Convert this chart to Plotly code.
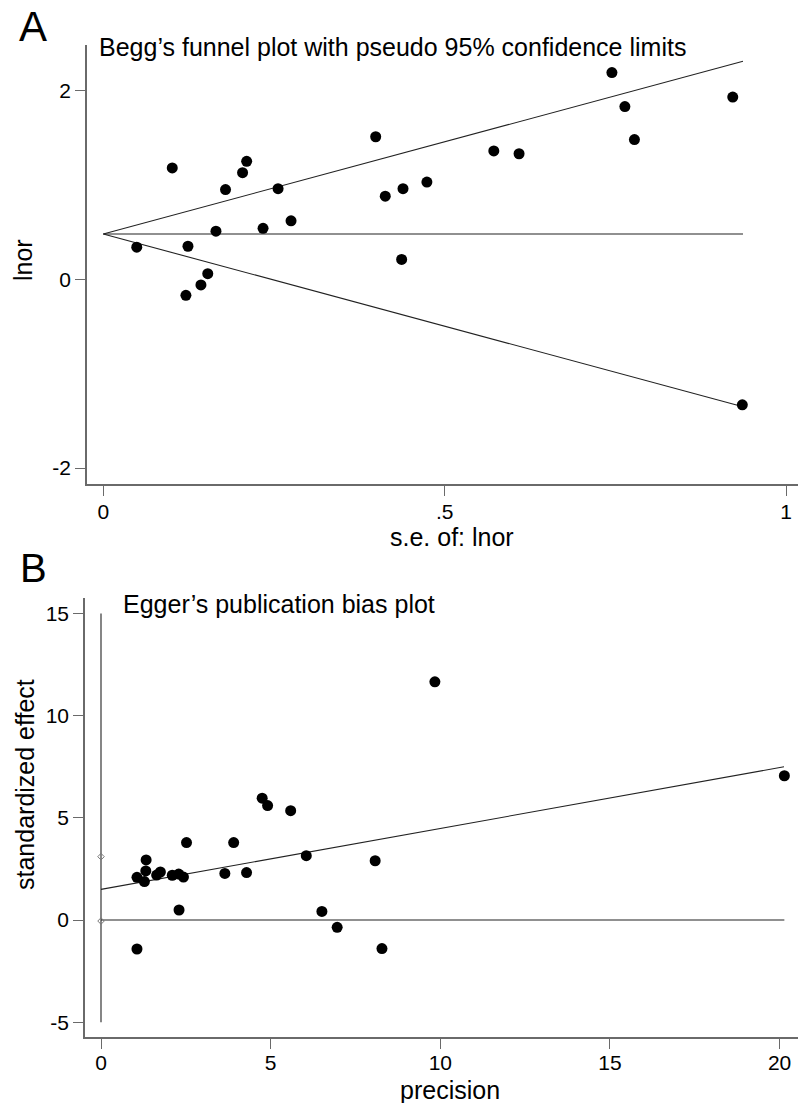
import plotly.graph_objects as go

W, H = 798, 1103

# ---------------- Panel A data (Begg's funnel plot) ----------------
se_lnor = [0.049, 0.101, 0.124, 0.121, 0.143, 0.153, 0.165, 0.179, 0.204, 0.210,
           0.234, 0.256, 0.275, 0.399, 0.413, 0.439, 0.437, 0.474, 0.572, 0.609,
           0.745, 0.764, 0.778, 0.922, 0.936]
lnor = [0.34, 1.18, 0.35, -0.17, -0.06, 0.06, 0.51, 0.95, 1.13, 1.25,
        0.54, 0.96, 0.62, 1.51, 0.88, 0.96, 0.21, 1.03, 1.36, 1.33,
        2.19, 1.83, 1.48, 1.93, -1.33]
funnel_se = [0.0, 0.937]
funnel_upper = [0.48, 2.31]
funnel_mid = [0.48, 0.48]
funnel_lower = [0.48, -1.35]
a_xticks = [0, 0.5, 1]
a_xticklabels = ["0", ".5", "1"]
a_yticks = [-2, 0, 2]
a_yticklabels = ["-2", "0", "2"]

# ---------------- Panel B data (Egger's plot) ----------------
precision = [4.75, 4.91, 5.59, 9.84, 20.14, 1.06, 1.06, 1.33, 1.32, 1.28,
             1.64, 1.75, 2.10, 2.29, 2.43, 2.30, 2.52, 3.65, 3.91, 4.29,
             6.05, 6.51, 6.96, 8.08, 8.28]
std_effect = [5.96, 5.60, 5.35, 11.66, 7.06, 2.09, -1.42, 2.94, 2.40, 1.88,
              2.20, 2.35, 2.19, 2.25, 2.10, 0.49, 3.79, 2.28, 3.79, 2.32,
              3.15, 0.42, -0.36, 2.90, -1.40]
reg_x = [0.0, 20.13]
reg_y = [1.50, 7.50]
zero_x = [0.0, 20.14]
zero_y = [0.0, 0.0]
yaxis_line_x = [0.0, 0.0]
yaxis_line_y = [-5.0, 15.0]
ci_x = [0.0, 0.0]
ci_y = [-0.05, 3.10]
b_xticks = [0, 5, 10, 15, 20]
b_xticklabels = ["0", "5", "10", "15", "20"]
b_yticks = [-5, 0, 5, 10, 15]
b_yticklabels = ["-5", "0", "5", "10", "15"]

FONT = "Arial, Liberation Sans, Helvetica, sans-serif"
AXC = "#6a6a6a"
LC = "#222222"

def px(x):
    return x / W

def py(y):
    return 1 - y / H

fig = go.Figure()

# Panel A
for yy in (funnel_upper, funnel_mid, funnel_lower):
    fig.add_trace(go.Scatter(x=funnel_se, y=yy, mode="lines",
                             line=dict(color=LC, width=1.1),
                             xaxis="x", yaxis="y", showlegend=False, hoverinfo="skip"))
fig.add_trace(go.Scatter(x=se_lnor, y=lnor, mode="markers",
                         marker=dict(color="black", size=11, line=dict(width=0)),
                         xaxis="x", yaxis="y", showlegend=False))

# Panel B
fig.add_trace(go.Scatter(x=yaxis_line_x, y=yaxis_line_y, mode="lines",
                         line=dict(color=LC, width=1.1),
                         xaxis="x2", yaxis="y2", showlegend=False, hoverinfo="skip"))
fig.add_trace(go.Scatter(x=zero_x, y=zero_y, mode="lines",
                         line=dict(color=LC, width=1.1),
                         xaxis="x2", yaxis="y2", showlegend=False, hoverinfo="skip"))
fig.add_trace(go.Scatter(x=reg_x, y=reg_y, mode="lines",
                         line=dict(color=LC, width=1.1),
                         xaxis="x2", yaxis="y2", showlegend=False, hoverinfo="skip"))
fig.add_trace(go.Scatter(x=ci_x, y=ci_y, mode="markers",
                         marker=dict(symbol="diamond-open", color="#777777", size=5,
                                     line=dict(width=1, color="#777777")),
                         xaxis="x2", yaxis="y2", showlegend=False))
fig.add_trace(go.Scatter(x=precision, y=std_effect, mode="markers",
                         marker=dict(color="black", size=11, line=dict(width=0)),
                         xaxis="x2", yaxis="y2", showlegend=False))

axis_common = dict(showline=True, linecolor=AXC, linewidth=1.5, showgrid=False,
                   zeroline=False, ticks="outside", ticklen=10, tickcolor=AXC,
                   tickwidth=1.2, tickfont=dict(family=FONT, size=21, color="black"),
                   mirror=False)

fig.update_layout(
    width=W, height=H,
    margin=dict(l=0, r=0, t=0, b=0),
    paper_bgcolor="white", plot_bgcolor="white",
    font=dict(family=FONT, color="black"),
    xaxis=dict(domain=[px(87), 1.0], anchor="y",
               range=[-0.02388, 1.01758], ticklabelstandoff=-2,
               tickvals=a_xticks, ticktext=a_xticklabels, **axis_common),
    yaxis=dict(domain=[py(484), py(45)], anchor="x",
               range=[-2.1684, 2.4820],
               tickvals=a_yticks, ticktext=a_yticklabels, **axis_common),
    xaxis2=dict(domain=[px(85), 1.0], anchor="y2",
                range=[-0.4716, 20.542], ticklabelstandoff=-4,
                tickvals=b_xticks, ticktext=b_xticklabels, **axis_common),
    yaxis2=dict(domain=[py(1037), py(598)], anchor="x2",
                range=[-5.727, 15.761],
                tickvals=b_yticks, ticktext=b_yticklabels, **axis_common),
)

ann = []
def add_text(text, x, y, size, xanchor="center", yanchor="middle", angle=0):
    ann.append(dict(text=text, x=px(x), y=py(y), xref="paper", yref="paper",
                    showarrow=False, xanchor=xanchor, yanchor=yanchor,
                    textangle=angle, font=dict(family=FONT, size=size, color="black")))

add_text("A", 17, 26, 42, xanchor="left")
add_text("B", 18, 568, 40, xanchor="left")
add_text("Begg\u2019s funnel plot with pseudo 95% confidence limits", 97, 47, 25, xanchor="left")
add_text("Egger\u2019s publication bias plot", 121, 604, 25, xanchor="left")
add_text("lnor", 23, 260, 25, angle=-90)
add_text("s.e. of: lnor", 452, 537, 25)
add_text("standardized effect", 25, 785, 25, angle=-90)
add_text("precision", 450, 1090, 25)

fig.update_layout(annotations=ann)

fig.write_html("out.html", config={"displayModeBar": False},
               post_script="document.body.style.margin='0';document.body.style.padding='0';")
